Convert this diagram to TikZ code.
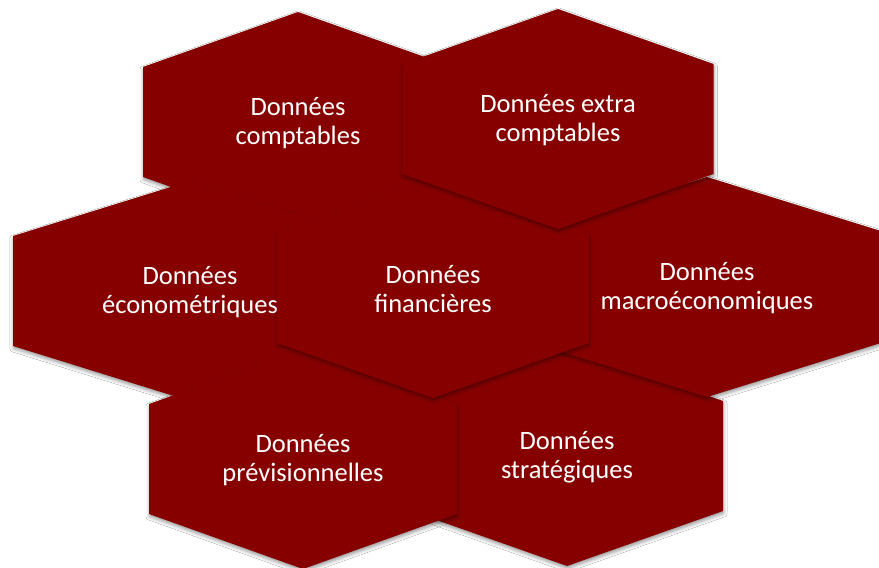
\documentclass[tikz,border=0pt]{standalone}
\usepackage{fontspec}
\setmainfont{Carlito}
\usetikzlibrary{shadows.blur}
\definecolor{hexred}{RGB}{134,0,0}
\tikzset{
  hexfill/.style={fill=hexred, blur shadow={shadow xshift=0.5pt, shadow yshift=-2.5pt, shadow blur radius=3.5pt, shadow opacity=40}},
  hextext/.style={text=white, align=center, font=\fontsize{26.5}{29}\selectfont, inner sep=0pt}
}
\newcommand\hexa[5]{%
  \begin{scope}[shift={(#2,#3)}]
    \path[hexfill] (0,-110) -- (#4,-55) -- (#4,55) -- (0,110) -- (-#4,55) -- (-#4,-55) -- cycle;
    \node[hextext] (#1) at (0,1) {#5};
  \end{scope}}
\begin{document}
\begin{tikzpicture}[x=1pt,y=-1pt]
\useasboundingbox[fill=white] (0,0) rectangle (879,568);
\hexa{compt}{298}{122}{155}{Données\\comptables}
\hexa{econo}{190}{291}{177}{Données\\économétriques}
\hexa{strat}{567}{456}{156}{Données\\stratégiques}
\hexa{previ}{303}{459}{154}{Données\\prévisionnelles}
\hexa{macro}{707}{287}{177}{Données\\macroéconomiques}
\hexa{finan}{433}{288}{156}{Données\\financières}
\hexa{extra}{558}{119}{155.5}{Données extra\\comptables}
\end{tikzpicture}
\end{document}
